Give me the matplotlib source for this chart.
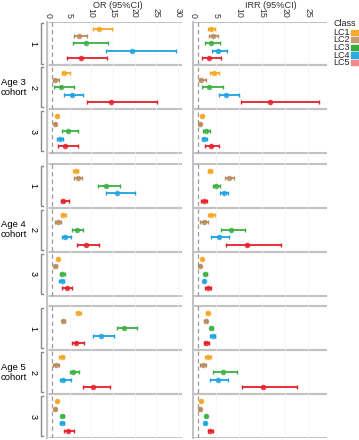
import numpy as np
import matplotlib
matplotlib.use('Agg')
import matplotlib.pyplot as plt
import matplotlib.transforms as mtransforms
from matplotlib.patches import Rectangle

plt.rcParams['font.family'] = ['Liberation Sans', 'DejaVu Sans']

" DATA "

cohorts = ['Age 3\ncohort', 'Age 4\ncohort', 'Age 5\ncohort']
groups = ['1', '2', '3']
classes = ['LC1', 'LC2', 'LC3', 'LC4', 'LC5']
colors = ['#F5A623', '#B98B5C', '#3CB043', '#1DA3E2', '#E5202A']
key_colors = ['#F7A92E', '#C49D72', '#38AA3C', '#2AABE2', '#F08A8C']

# [cohort][group][class]
or_est = [[[11.85, 7.16, 8.78, 19.32, 7.54], [3.77, 1.62, 3.00, 5.47, 14.55], [2.08, 1.62, 4.54, 2.69, 3.93]],
          [[6.39, 6.85, 13.39, 15.86, 3.54], [3.54, 2.23, 6.62, 3.93, 8.70], [2.23, 1.69, 3.31, 3.16, 4.31]],
          [[7.00, 3.54, 17.63, 12.16, 6.47], [3.16, 1.85, 5.85, 3.54, 10.47], [2.16, 1.54, 3.31, 3.23, 4.69]]]
or_lo = [[[10.32, 6.08, 5.85, 13.32, 4.31], [3.16, 1.08, 1.46, 3.77, 8.93], [1.85, 1.31, 3.16, 2.00, 2.39]],
         [[5.85, 6.08, 11.47, 13.32, 2.93], [3.00, 1.62, 5.47, 3.16, 6.62], [2.00, 1.46, 2.77, 2.62, 3.31]],
         [[6.47, 3.16, 16.01, 10.32, 5.47], [2.54, 1.23, 5.08, 2.77, 8.16], [1.92, 1.31, 3.00, 2.77, 3.70]]]
or_hi = [[[14.70, 8.93, 13.78, 29.56, 13.63], [5.16, 2.54, 6.08, 8.16, 25.17], [2.39, 1.92, 6.85, 3.54, 7.00]],
         [[7.00, 7.93, 16.63, 20.09, 4.85], [4.16, 2.93, 8.16, 5.31, 11.85], [2.54, 2.00, 3.93, 3.77, 5.47]],
         [[7.54, 3.93, 20.48, 15.24, 8.39], [3.77, 2.62, 7.24, 5.31, 14.32], [2.39, 1.77, 3.62, 3.69, 6.08]]]

irr_est = [[[3.98, 4.34, 3.91, 5.36, 3.40], [4.63, 1.80, 3.54, 7.24, 16.80], [1.95, 1.51, 2.82, 2.38, 3.91]],
           [[3.69, 7.89, 4.99, 6.66, 2.46], [3.98, 2.31, 8.33, 5.57, 11.73], [1.88, 1.51, 2.67, 2.38, 3.18]],
           [[3.18, 2.75, 3.98, 4.27, 2.82], [3.25, 2.17, 6.51, 5.36, 15.21], [1.80, 1.44, 2.82, 2.53, 3.69]]]
irr_lo = [[[3.25, 3.54, 2.53, 4.12, 1.95], [3.62, 1.22, 1.95, 5.57, 10.43], [1.66, 1.22, 2.09, 1.88, 2.67]],
          [[3.33, 7.02, 4.27, 5.79, 1.80], [3.25, 1.59, 6.08, 3.98, 7.17], [1.66, 1.30, 2.31, 2.09, 2.67]],
          [[2.82, 2.38, 3.62, 3.76, 2.31], [2.67, 1.59, 4.27, 3.76, 10.65], [1.59, 1.22, 2.53, 2.31, 3.18]]]
irr_hi = [[[4.70, 5.36, 5.93, 7.38, 6.08], [5.72, 2.89, 6.51, 9.92, 27.31], [2.24, 1.80, 3.76, 2.96, 5.72]],
          [[4.05, 8.83, 5.79, 7.60, 3.11], [4.78, 3.25, 11.37, 7.89, 19.20], [2.09, 1.73, 3.04, 2.67, 3.83]],
          [[3.54, 3.11, 4.34, 4.85, 3.40], [3.98, 2.89, 9.56, 7.60, 22.60], [2.02, 1.66, 3.11, 2.75, 4.27]]]

panels = [('OR (95%CI)', or_est, or_lo, or_hi, [0, 5, 10, 15, 20, 25, 30], (-0.16, 30.9)),
          ('IRR (95%CI)', irr_est, irr_lo, irr_hi, [0, 5, 10, 15, 20, 25], (-0.07, 29.1))]

" LAYOUT "

W, H = 359, 440
GH = 5.92      # height of one group panel (row units)
GAP = 1.45     # space between cohorts
total = 3 * (3 * GH) + 2 * GAP
grey = '#C2C2C2'

fig = plt.figure(figsize=(W / 100, H / 100), dpi=100)
ax_l = fig.add_axes([47.3 / W, 2 / H, 134.4 / W, 416.5 / H])
ax_r = fig.add_axes([192.7 / W, 2 / H, 134.3 / W, 416.5 / H])
title_x = [117.5, 271]


def group_top(c, g):
    return c * (3 * GH + GAP) + g * GH


for i, (ax, (title, est, lo, hi, ticks, xlim)) in enumerate(zip([ax_l, ax_r], panels)):
    est, lo, hi = np.array(est), np.array(lo), np.array(hi)
    ax.set_xlim(*xlim)
    ax.set_ylim(total, 0)
    for s in ['top', 'right', 'bottom']:
        ax.spines[s].set_visible(False)
    ax.spines['left'].set_color(grey)
    ax.spines['left'].set_linewidth(1.4)
    ax.set_yticks([])
    ax.xaxis.tick_top()
    ax.set_xticks(ticks)
    ax.set_xticklabels([str(t) for t in ticks], rotation=270, fontsize=6.3, color='#333333')
    ax.tick_params(axis='x', length=0, pad=2.5)
    ax.grid(axis='x', color='#F3F3F3', lw=0.5, zorder=0)

    trans = mtransforms.blended_transform_factory(ax.transAxes, ax.transData)
    for c in range(3):
        ctop = group_top(c, 0)
        ax.vlines(1, ctop, ctop + 3 * GH, colors='#9A9A9A', linestyles=(0, (3.5, 2.5)), lw=0.9, zorder=1)
        for g in range(3):
            y0 = group_top(c, g)
            ax.axhline(y0, color=grey, lw=1.5, zorder=0)
            ax.axhline(y0 + GH, color=grey, lw=1.5, zorder=0)
            ys = y0 + (GH - 4) / 2 + np.arange(5)
            for k in range(5):
                ax.errorbar(est[c, g, k], ys[k],
                            xerr=[[est[c, g, k] - lo[c, g, k]], [hi[c, g, k] - est[c, g, k]]],
                            fmt='none', ecolor=colors[k], elinewidth=1.3, capsize=1.5,
                            capthick=1.0, zorder=3)
                ax.plot(est[c, g, k], ys[k], 'o', color=colors[k], ms=4.0, mew=0, alpha=0.85, zorder=4)
            if i == 0:
                # bracket + group label on the left
                b0, b1 = y0 + 0.25, y0 + GH - 0.25
                ax.plot([-0.033, -0.045, -0.045, -0.033], [b0, b0, b1, b1], color='#888888',
                        lw=1.0, transform=trans, clip_on=False)
                ax.text(-0.105, y0 + GH / 2, groups[g], rotation=270, ha='center', va='center',
                        fontsize=6.5, transform=trans, clip_on=False)
        if i == 0:
            ax.text(-0.345, ctop + 1.5 * GH, cohorts[c], ha='left', va='center', fontsize=6.8,
                    linespacing=1.15, transform=trans, clip_on=False)

    fig.text(title_x[i] / W, 1 - 5 / H, title, ha='center', va='center', fontsize=6.6, color='#333333')

# legend
fig.text(333.5 / W, 1 - 24 / H, 'Class', ha='left', va='center', fontsize=6.5, color='#222222')
for k, name in enumerate(classes):
    yc = 32.3 + 7.6 * k
    fig.text(333.5 / W, 1 - yc / H, name, ha='left', va='center', fontsize=6.5, color='#222222')
    fig.patches.append(Rectangle((350.5 / W, 1 - (yc + 2.6) / H), 8 / W, 5.2 / H,
                                 transform=fig.transFigure, color=key_colors[k]))

fig.savefig('out.png', dpi=100)
